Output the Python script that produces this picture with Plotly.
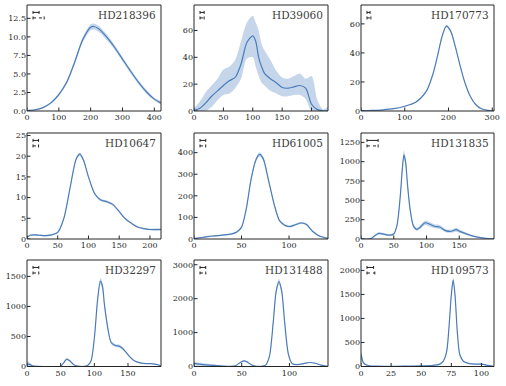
import plotly.graph_objects as go

W, H = 506, 386

names = ["HD218396", "HD39060", "HD170773", "HD10647", "HD61005",
         "HD131835", "HD32297", "HD131488", "HD109573"]

# ---- panel data (radius, surface density) ----
x1 = [0, 25, 50, 75, 100, 125, 136, 150, 175, 200, 210, 225, 250, 275, 300, 325, 350, 375, 400, 420]
y1 = [0.05, 0.15, 0.45, 1.1, 2.2, 3.9, 5.0, 6.6, 9.6, 11.3, 11.4, 11.1, 10.0, 8.6, 7.0, 5.4, 3.9, 2.6, 1.6, 1.1]
e1 = [0.02, 0.05, 0.1, 0.15, 0.2, 0.25, 0.25, 0.3, 0.35, 0.4, 0.4, 0.4, 0.4, 0.35, 0.3, 0.3, 0.25, 0.25, 0.2, 0.2]

x2 = [0, 10, 20, 30, 40, 50, 60, 70, 80, 90, 100, 105, 110, 115, 120, 130, 140, 150, 160, 170, 180, 190, 200, 210, 220, 228]
y2 = [0.5, 2, 6, 11, 15, 19, 22.5, 25, 35, 51, 56, 52, 40, 33, 28, 24, 21, 17.5, 17, 18, 19, 17, 5, 1, 0.2, 0.1]
lo2 = [0, 0, 0, 3, 8, 12, 13, 17, 24, 39, 40, 33, 26, 21, 19, 15, 13, 11, 11, 12, 12, 9, 0, 0, 0, 0]
hi2 = [2, 7, 14, 19, 24, 31, 33, 38, 52, 66, 71, 66, 60, 50, 45, 38, 30, 25, 24, 26, 28, 24, 26, 8, 1, 3]

x3 = [0, 25, 50, 75, 100, 125, 150, 165, 175, 185, 195, 205, 215, 225, 237, 250, 262, 275, 290, 305]
y3 = [0.2, 0.4, 0.8, 1.6, 3.3, 6, 14, 26, 38, 51, 58.5, 55, 45, 33, 20, 10, 4.5, 1.5, 0.4, 0.1]
e3 = [0.05, 0.05, 0.1, 0.1, 0.2, 0.3, 0.4, 0.6, 0.7, 0.8, 0.9, 0.8, 0.7, 0.6, 0.5, 0.3, 0.2, 0.1, 0.05, 0.05]

x4 = [0, 5, 12, 20, 30, 40, 50, 60, 70, 80, 86, 92, 100, 110, 120, 130, 140, 150, 160, 170, 180, 190, 200, 218]
y4 = [0.4, 0.9, 1.0, 0.9, 0.8, 1.0, 1.6, 5.0, 12.3, 19.3, 20.5, 19.0, 15, 11, 9.4, 9.0, 8.3, 6.6, 4.9, 3.8, 2.9, 2.5, 2.3, 2.3]
e4 = [0.2, 0.2, 0.2, 0.2, 0.2, 0.2, 0.2, 0.2, 0.3, 0.4, 0.4, 0.4, 0.3, 0.3, 0.3, 0.3, 0.3, 0.2, 0.2, 0.2, 0.2, 0.2, 0.2, 0.2]

x5 = [0, 10, 20, 30, 40, 45, 50, 55, 60, 65, 69, 73, 78, 85, 90, 95, 100, 105, 112, 118, 125, 132, 141]
y5 = [2, 8, 14, 18, 24, 32, 55, 140, 275, 365, 392, 370, 280, 150, 85, 65, 58, 63, 74, 68, 35, 14, 3]
e5 = [2, 3, 3, 3, 3, 4, 5, 6, 8, 9, 10, 9, 8, 6, 5, 5, 5, 5, 5, 5, 4, 3, 2]

x6 = [0, 10, 15, 20, 27, 35, 43, 50, 55, 60, 63, 65.5, 68, 71, 75, 80, 85, 90, 98, 105, 112, 120, 130, 138, 145, 152, 160, 170, 180, 190, 203]
y6 = [0, 0, 5, 35, 72, 62, 50, 65, 180, 560, 900, 1090, 1000, 700, 380, 170, 125, 150, 210, 190, 165, 155, 105, 100, 120, 95, 70, 40, 20, 8, 2]
e6 = [2, 3, 5, 10, 15, 15, 12, 15, 25, 40, 50, 55, 50, 40, 30, 20, 20, 25, 30, 30, 25, 25, 20, 20, 25, 20, 15, 10, 8, 5, 3]

x7 = [0, 4, 8, 15, 30, 45, 50, 55, 59, 64, 70, 78, 85, 90, 95, 100, 105, 109, 112, 115, 120, 125, 131, 137, 142, 147, 152, 160, 170, 180, 190, 199]
y7 = [40, 35, 12, 2, 0, 0, 5, 70, 122, 90, 25, 2, 2, 15, 90, 470, 1130, 1420, 1340, 1030, 640, 400, 350, 340, 300, 240, 170, 90, 55, 48, 40, 12]
e7 = [60, 30, 10, 3, 2, 2, 5, 10, 15, 12, 6, 3, 3, 5, 12, 30, 45, 55, 50, 40, 30, 25, 25, 25, 20, 15, 12, 10, 8, 8, 6, 5]

x8 = [0, 5, 10, 20, 30, 38, 44, 48, 52, 56, 60, 65, 70, 75, 79, 83, 86, 89, 92, 95, 99, 103, 108, 115, 121, 127, 133, 140]
y8 = [90, 70, 55, 35, 12, 4, 30, 110, 165, 130, 50, 8, 5, 40, 300, 1300, 2200, 2500, 2200, 1300, 350, 80, 55, 85, 118, 95, 40, 8]
e8 = [60, 45, 40, 30, 15, 8, 10, 15, 20, 15, 10, 5, 5, 10, 25, 60, 80, 90, 80, 60, 25, 10, 10, 12, 15, 12, 8, 5]

x9 = [0, 1, 2, 4, 7, 12, 20, 30, 40, 50, 60, 65, 68, 71, 73, 75, 76.5, 78, 80, 82, 85, 90, 95, 100, 104, 110]
y9 = [250, 150, 80, 35, 15, 8, 5, 5, 8, 12, 25, 45, 100, 300, 800, 1500, 1800, 1500, 700, 250, 110, 60, 50, 50, 30, 5]
e9 = [70, 50, 30, 15, 8, 5, 4, 4, 5, 6, 8, 10, 15, 25, 40, 55, 60, 55, 35, 20, 12, 10, 10, 10, 8, 4]

xs = [x1, x2, x3, x4, x5, x6, x7, x8, x9]
ys = [y1, y2, y3, y4, y5, y6, y7, y8, y9]
errs = [e1, None, e3, e4, e5, e6, e7, e8, e9]

x_ranges = [[0, 421], [0, 228], [0, 304], [0, 218], [0, 141], [0, 203], [0, 199], [0, 140.4], [0, 110.4]]
y_ranges = [[0, 14.3], [0, 79], [0, 73], [0, 25.6], [0, 491], [0, 1371], [0, 1773], [0, 3140], [0, 2217]]
x_ticks = [[0, 100, 200, 300, 400], [0, 50, 100, 150, 200], [0, 100, 200, 300], [0, 50, 100, 150, 200],
           [0, 50, 100], [0, 50, 100, 150], [0, 50, 100, 150], [0, 50, 100], [0, 25, 50, 75, 100]]
y_ticks = [[0, 2.5, 5, 7.5, 10, 12.5], [0, 20, 40, 60], [0, 20, 40, 60], [0, 5, 10, 15, 20, 25],
           [0, 100, 200, 300, 400], [0, 250, 500, 750, 1000, 1250], [0, 500, 1000, 1500],
           [0, 1000, 2000, 3000], [0, 500, 1000, 1500, 2000]]

# beam / resolution bar widths (data units)
res_solid = [19, 7, 7, 9, 6, 17, 8.5, 6, 5.5]
res_dotted = [35, 7, 9, 9, 6, 17, 8.5, 6, 6.5]

LINE = "#4a7cb9"
FILL = "rgba(80,130,195,0.33)"
TXT = "#262626"
FRAME = "#262626"
FONT = "DejaVu Serif"

cols = [(27, 161), (194, 328), (361, 494)]
rows = [(5, 111), (133, 239), (260, 366.5)]

fig = go.Figure()
layout = dict(width=W, height=H, margin=dict(l=0, r=0, t=0, b=0, autoexpand=False),
              paper_bgcolor="white", plot_bgcolor="white", showlegend=False,
              font=dict(family=FONT, size=8, color=TXT))
shapes = []
annotations = []

for i in range(9):
    r, c = divmod(i, 3)
    ax = "" if i == 0 else str(i + 1)
    xa, ya = "x" + ax, "y" + ax
    x = xs[i]
    y = ys[i]
    if errs[i] is None:
        lo, hi = lo2, hi2
    else:
        lo = [max(v - e, 0) for v, e in zip(y, errs[i])]
        hi = [v + e for v, e in zip(y, errs[i])]
    fig.add_trace(go.Scatter(x=x + x[::-1], y=hi + lo[::-1], fill="toself", fillcolor=FILL,
                             line=dict(width=0, shape="spline", smoothing=0.8), mode="lines",
                             hoverinfo="skip", xaxis=xa, yaxis=ya))
    fig.add_trace(go.Scatter(x=x, y=y, mode="lines",
                             line=dict(color=LINE, width=1.2, shape="spline", smoothing=0.8),
                             xaxis=xa, yaxis=ya))
    x0p, x1p = cols[c]
    y0p, y1p = rows[r]
    pw, ph = x1p - x0p, y1p - y0p
    axis_common = dict(showgrid=False, zeroline=False, showline=False, ticks="",
                       ticklabeloverflow="allow",
                       tickfont=dict(family=FONT, size=8, color=TXT))
    layout["xaxis" + ax] = dict(axis_common, domain=[x0p / W, x1p / W], range=x_ranges[i],
                                tickvals=x_ticks[i], anchor=ya)
    ytf = ".1f" if i == 0 else "d"
    layout["yaxis" + ax] = dict(axis_common, domain=[1 - y1p / H, 1 - y0p / H], range=y_ranges[i],
                                tickvals=y_ticks[i], tickformat=ytf, anchor=xa)
    # frame
    shapes.append(dict(type="rect", xref=xa + " domain", yref=ya + " domain", x0=0, x1=1, y0=0, y1=1,
                       line=dict(color=FRAME, width=1), layer="above"))
    # inward tick marks
    for v in x_ticks[i]:
        shapes.append(dict(type="line", xref=xa, yref=ya + " domain", x0=v, x1=v, y0=0, y1=3.5 / ph,
                           line=dict(color=FRAME, width=1)))
    for v in y_ticks[i]:
        shapes.append(dict(type="line", xref=xa + " domain", yref=ya, x0=0, x1=3.5 / pw, y0=v, y1=v,
                           line=dict(color=FRAME, width=1)))
    annotations.append(dict(text=names[i], xref=xa + " domain", yref=ya + " domain",
                            x=0.975, y=0.985, xanchor="right", yanchor="top", showarrow=False,
                            font=dict(family=FONT, size=10.5, color="#404040")))
    # resolution markers
    xr0, xr1 = x_ranges[i]
    bx = xr0 + 0.045 * (xr1 - xr0)
    for w, yy, dash in [(res_solid[i], 0.93, "solid"), (res_dotted[i], 0.878, "dot")]:
        shapes.append(dict(type="line", xref=xa, yref=ya + " domain", x0=bx, x1=bx + w, y0=yy, y1=yy,
                           line=dict(color="#222222", width=1, dash=dash)))
        for xe in (bx, bx + w):
            shapes.append(dict(type="line", xref=xa, yref=ya + " domain", x0=xe, x1=xe,
                               y0=yy - 0.014, y1=yy + 0.014, line=dict(color="#222222", width=1)))

layout["shapes"] = shapes
layout["annotations"] = annotations
fig.update_layout(**layout)
fig.write_html("out.html", config={"displayModeBar": False},
               post_script="document.body.style.margin='0';document.body.style.overflow='hidden';")
